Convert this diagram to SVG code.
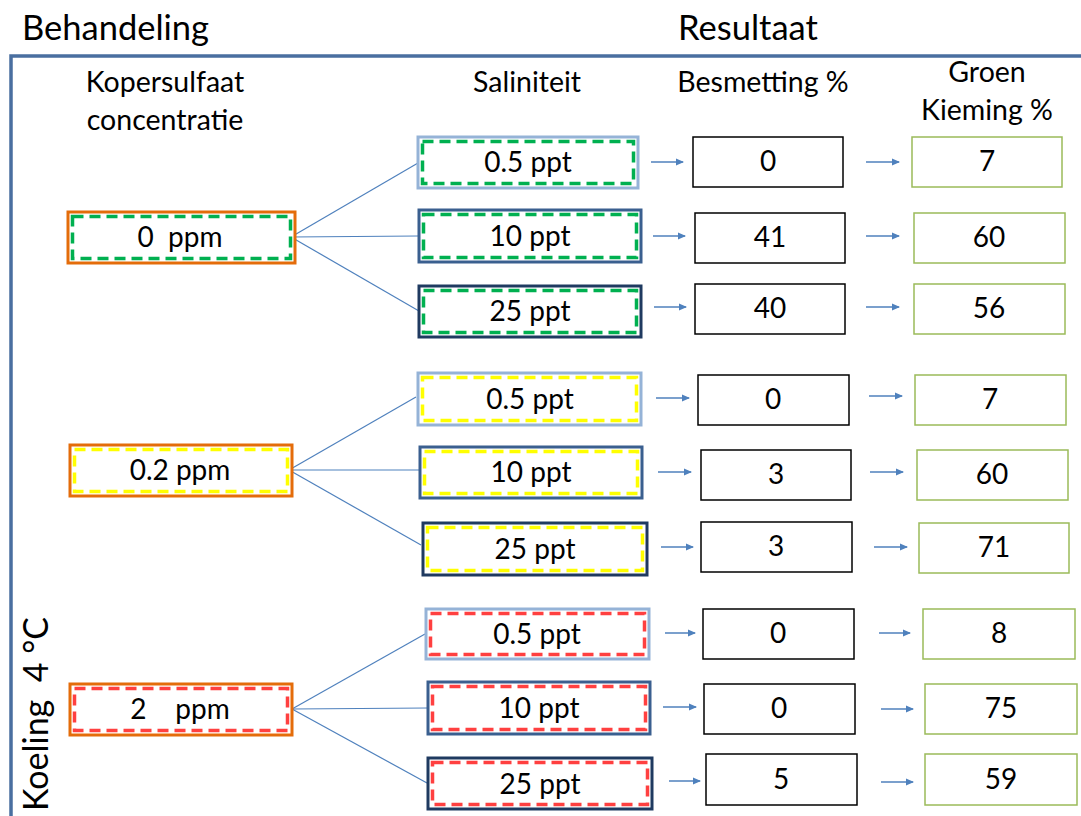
<svg xmlns="http://www.w3.org/2000/svg" width="1081" height="816" viewBox="0 0 1081 816">
<defs>
<marker id="ah" markerWidth="8" markerHeight="8" refX="7" refY="4" orient="auto" markerUnits="userSpaceOnUse">
<path d="M0,0.5 L8,4 L0,7.5 Z" fill="#4f81bd"/>
</marker>
<style>
text{font-family:Lato,"Liberation Sans",sans-serif;fill:#000;}
.h{font-size:34.5px;}
.sh{font-size:28.5px;text-anchor:middle;}
.t{font-size:28px;text-anchor:middle;}
.ppm{fill:#fff;stroke:#e46c0a;stroke-width:3;}
.lb{fill:#fff;stroke:#95b3d7;stroke-width:3;}
.mb{fill:#fff;stroke:#3a5f8f;stroke-width:3;}
.nb{fill:#fff;stroke:#1f3a60;stroke-width:3;}
.dg{fill:none;stroke:#00b050;stroke-width:3.5;stroke-dasharray:11 6;}
.dy{fill:none;stroke:#ffff00;stroke-width:3.5;stroke-dasharray:11 6;}
.dr{fill:none;stroke:#ff4040;stroke-width:3.5;stroke-dasharray:11 6;}
.bk{fill:#fff;stroke:#000;stroke-width:1.5;}
.gr{fill:#fff;stroke:#9bbb59;stroke-width:1.5;}
.c{stroke:#4f81bd;stroke-width:1.2;fill:none;}
.a{stroke:#4f81bd;stroke-width:1.5;fill:none;marker-end:url(#ah);}
</style>
</defs>
<rect width="1081" height="816" fill="#fff"/>
<g id="frame">
<path d="M1081,56 L11,56 L11,816" fill="none" stroke="#4a6fa0" stroke-width="3.5"/>
</g>
<g id="headers">
<text class="h" x="22" y="40">Behandeling</text>
<text class="h" x="678" y="40">Resultaat</text>
<text class="sh" x="165" y="92">Kopersulfaat</text>
<text class="sh" x="165" y="130">concentratie</text>
<text class="sh" x="527" y="92">Saliniteit</text>
<text class="sh" x="763" y="92">Besmetting %</text>
<text class="sh" x="987" y="82">Groen</text>
<text class="sh" x="987" y="120">Kieming %</text>
<text class="h" transform="translate(48,811) rotate(-90)" xml:space="preserve" style="font-size:34px">Koeling  4 °C</text>
</g>
<g id="connectors">
<line class="c" x1="291" y1="237" x2="418" y2="163"/>
<line class="c" x1="291" y1="237" x2="418" y2="236"/>
<line class="c" x1="291" y1="237" x2="419" y2="311"/>
<line class="c" x1="289" y1="470" x2="416" y2="397"/>
<line class="c" x1="289" y1="470" x2="420" y2="470"/>
<line class="c" x1="289" y1="470" x2="421" y2="545"/>
<line class="c" x1="292" y1="709" x2="425" y2="634"/>
<line class="c" x1="292" y1="709" x2="428" y2="708"/>
<line class="c" x1="292" y1="709" x2="427" y2="783"/>
<line class="a" x1="651" y1="162" x2="683" y2="162"/>
<line class="a" x1="653" y1="236" x2="685" y2="236"/>
<line class="a" x1="654" y1="307" x2="686" y2="307"/>
<line class="a" x1="866" y1="162" x2="899" y2="162"/>
<line class="a" x1="866" y1="236" x2="899" y2="236"/>
<line class="a" x1="866" y1="307" x2="899" y2="307"/>
<line class="a" x1="656" y1="398" x2="689" y2="398"/>
<line class="a" x1="658" y1="472" x2="691" y2="472"/>
<line class="a" x1="661" y1="547" x2="693" y2="547"/>
<line class="a" x1="869" y1="396" x2="902" y2="396"/>
<line class="a" x1="870" y1="472" x2="903" y2="472"/>
<line class="a" x1="874" y1="547" x2="907" y2="547"/>
<line class="a" x1="665" y1="633" x2="695" y2="633"/>
<line class="a" x1="663" y1="707" x2="696" y2="707"/>
<line class="a" x1="669" y1="781" x2="700" y2="781"/>
<line class="a" x1="879" y1="633" x2="910" y2="633"/>
<line class="a" x1="881" y1="709" x2="913" y2="709"/>
<line class="a" x1="881" y1="782" x2="913" y2="782"/>
</g>
<g id="c0">
<rect class="ppm" x="68" y="212" width="227" height="51"/>
<rect class="dg" x="72.5" y="216.5" width="218" height="42"/>
<text class="t" x="180" y="247" xml:space="preserve">0  ppm</text>
</g>
<g id="c0-s05"><rect class="lb" x="418" y="137" width="220" height="51"/><rect class="dg" x="422.5" y="141.5" width="211" height="42"/><text class="t" x="528" y="172">0.5 ppt</text></g>
<g id="c0-s10"><rect class="mb" x="419" y="210" width="222" height="52"/><rect class="dg" x="423.5" y="214.5" width="213" height="43"/><text class="t" x="530" y="246">10 ppt</text></g>
<g id="c0-s25"><rect class="nb" x="419" y="286" width="222" height="51"/><rect class="dg" x="423.5" y="290.5" width="213" height="42"/><text class="t" x="530" y="321">25 ppt</text></g>
<g id="c0-b05"><rect class="bk" x="693" y="137" width="150" height="50"/><text class="t" x="768" y="171">0</text></g>
<g id="c0-b10"><rect class="bk" x="695" y="213" width="150" height="50"/><text class="t" x="770" y="247">41</text></g>
<g id="c0-b25"><rect class="bk" x="695" y="284" width="150" height="50"/><text class="t" x="770" y="318">40</text></g>
<g id="c0-g05"><rect class="gr" x="912" y="137" width="150" height="50"/><text class="t" x="987" y="171">7</text></g>
<g id="c0-g10"><rect class="gr" x="914" y="213" width="151" height="50"/><text class="t" x="989" y="247">60</text></g>
<g id="c0-g25"><rect class="gr" x="914" y="284" width="151" height="50"/><text class="t" x="989" y="318">56</text></g>

<g id="c02">
<rect class="ppm" x="70" y="445" width="222" height="51"/>
<rect class="dy" x="74.5" y="449.5" width="213" height="42"/>
<text class="t" x="180" y="480">0.2 ppm</text>
</g>
<g id="c02-s05"><rect class="lb" x="418" y="373" width="223" height="52"/><rect class="dy" x="422.5" y="377.5" width="214" height="43"/><text class="t" x="530" y="409">0.5 ppt</text></g>
<g id="c02-s10"><rect class="mb" x="420" y="447" width="222" height="51"/><rect class="dy" x="424.5" y="451.5" width="213" height="42"/><text class="t" x="531" y="482">10 ppt</text></g>
<g id="c02-s25"><rect class="nb" x="423" y="523" width="224" height="52"/><rect class="dy" x="427.5" y="527.5" width="215" height="43"/><text class="t" x="535" y="559">25 ppt</text></g>
<g id="c02-b05"><rect class="bk" x="698" y="375" width="151" height="50"/><text class="t" x="773" y="409">0</text></g>
<g id="c02-b10"><rect class="bk" x="701" y="450" width="150" height="50"/><text class="t" x="776" y="484">3</text></g>
<g id="c02-b25"><rect class="bk" x="701" y="522" width="151" height="50"/><text class="t" x="776" y="556">3</text></g>
<g id="c02-g05"><rect class="gr" x="915" y="375" width="151" height="50"/><text class="t" x="990" y="409">7</text></g>
<g id="c02-g10"><rect class="gr" x="917" y="450" width="151" height="50"/><text class="t" x="992" y="484">60</text></g>
<g id="c02-g25"><rect class="gr" x="919" y="523" width="150" height="50"/><text class="t" x="994" y="557">71</text></g>

<g id="c2">
<rect class="ppm" x="70" y="684" width="222" height="51"/>
<rect class="dr" x="74.5" y="688.5" width="213" height="42"/>
<text class="t" x="180" y="719" xml:space="preserve">2    ppm</text>
</g>
<g id="c2-s05"><rect class="lb" x="426" y="609" width="223" height="50"/><rect class="dr" x="430.5" y="613.5" width="214" height="41"/><text class="t" x="537" y="644">0.5 ppt</text></g>
<g id="c2-s10"><rect class="mb" x="428" y="682" width="222" height="52"/><rect class="dr" x="432.5" y="686.5" width="213" height="43"/><text class="t" x="539" y="718">10 ppt</text></g>
<g id="c2-s25"><rect class="nb" x="428" y="758" width="224" height="51"/><rect class="dr" x="432.5" y="762.5" width="215" height="42"/><text class="t" x="540" y="794">25 ppt</text></g>
<g id="c2-b05"><rect class="bk" x="703" y="609" width="151" height="50"/><text class="t" x="778" y="643">0</text></g>
<g id="c2-b10"><rect class="bk" x="704" y="684" width="151" height="50"/><text class="t" x="779" y="718">0</text></g>
<g id="c2-b25"><rect class="bk" x="706" y="754" width="151" height="51"/><text class="t" x="781" y="789">5</text></g>
<g id="c2-g05"><rect class="gr" x="923" y="609" width="152" height="50"/><text class="t" x="999" y="643">8</text></g>
<g id="c2-g10"><rect class="gr" x="925" y="684" width="152" height="50"/><text class="t" x="1001" y="718">75</text></g>
<g id="c2-g25"><rect class="gr" x="925" y="754" width="152" height="51"/><text class="t" x="1001" y="789">59</text></g>
</svg>
